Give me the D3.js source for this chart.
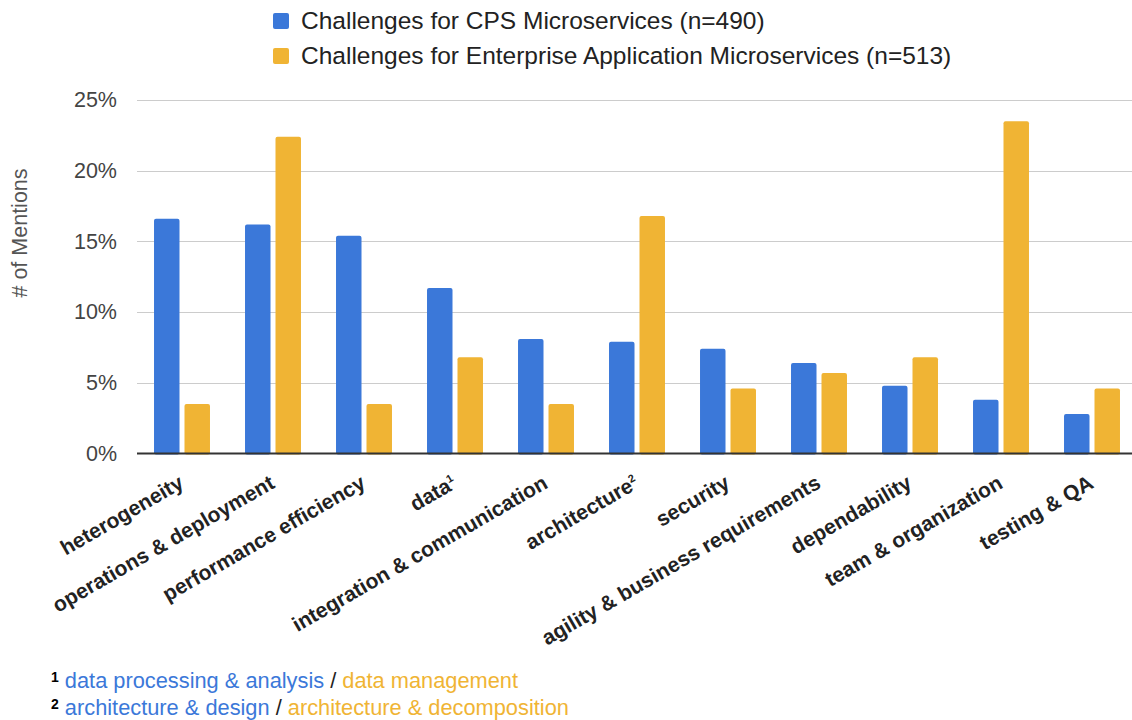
<!DOCTYPE html>
<html>
<head>
<meta charset="utf-8">
<script src="https://cdn.jsdelivr.net/npm/d3@7"></script>
<style>
  body { margin: 0; background: #fff; }
  svg { font-family: Arial, "Liberation Sans", sans-serif; }
</style>
</head>
<body>
<div id="chart"></div>
<script>

/***************************** Data *****************************/

var categories = ["heterogeneity", "operations & deployment", "performance efficiency", "data", "integration & communication",
  "architecture", "security", "agility & business requirements", "dependability", "team & organization", "testing & QA"];
var categoryNotes = ["", "", "", "1", "", "2", "", "", "", "", ""];

var seriesNames = ["Challenges for CPS Microservices (n=490)", "Challenges for Enterprise Application Microservices (n=513)"];
var cpsValues = [16.6, 16.2, 15.4, 11.7, 8.1, 7.9, 7.4, 6.4, 4.8, 3.8, 2.8];
var enterpriseValues = [3.5, 22.4, 3.5, 6.8, 3.5, 16.8, 4.6, 5.7, 6.8, 23.5, 4.6];

var yTicks = [0, 5, 10, 15, 20, 25];
var yTitle = "# of Mentions";

var footnoteNums = ["1", "2"];
var footnoteCps = ["data processing & analysis", "architecture & design"];
var footnoteEnterprise = ["data management", "architecture & decomposition"];

/***************************** Setup *****************************/

var width = 1132, height = 720;
var colors = ["#3b78d9", "#f0b434"];

var svg = d3.select("#chart").append("svg")
  .attr("width", width).attr("height", height);

var x0 = d3.scaleBand().domain(categories).range([136.5, 1137.5]).paddingInner(0.385).paddingOuter(0.1925);
var x1 = d3.scaleBand().domain([0, 1]).range([0, x0.bandwidth()]).paddingInner(0.164);
var y = d3.scaleLinear().domain([0, 25]).range([453.5, 100]);

var rows = categories.map(function(c, i){ return { cat: c, vals: [cpsValues[i], enterpriseValues[i]] }; });

/***************************** Grid + y axis *****************************/

var yAxis = d3.axisLeft(y).tickValues(yTicks).tickSize(0).tickPadding(20).tickFormat(function(d){ return d + "%"; });
var gy = svg.append("g").attr("transform", "translate(137,0)").call(yAxis);
gy.select(".domain").remove();
gy.selectAll("text").style("font-size", "21.5px").style("fill", "#444").style("font-family", "Arial, 'Liberation Sans', sans-serif");

svg.append("g").selectAll("line").data(yTicks.filter(function(t){ return t > 0; })).enter().append("line")
  .attr("x1", 137).attr("x2", width)
  .attr("y1", function(d){ return Math.round(y(d)) + 0.5; }).attr("y2", function(d){ return Math.round(y(d)) + 0.5; })
  .style("stroke", "#cccccc").style("stroke-width", 1.2);

svg.append("text")
  .attr("transform", "translate(27,233) rotate(-90)")
  .attr("text-anchor", "middle")
  .style("font-size", "21.5px").style("fill", "#555")
  .text(yTitle);

/***************************** Bars *****************************/

var groups = svg.append("g").selectAll("g").data(rows).enter().append("g")
  .attr("transform", function(d){ return "translate(" + x0(d.cat) + ",0)"; });

groups.selectAll("rect").data(function(d){ return d.vals; }).enter().append("rect")
  .attr("x", function(d, i){ return x1(i); })
  .attr("y", function(d){ return y(d); })
  .attr("width", x1.bandwidth())
  .attr("height", function(d){ return y(0) - y(d) + 1; })
  .attr("rx", 2).attr("ry", 2)
  .style("fill", function(d, i){ return colors[i]; });

// zero line
svg.append("line")
  .attr("x1", 137).attr("x2", width).attr("y1", y(0)).attr("y2", y(0))
  .style("stroke", "#333").style("stroke-width", 2);

/***************************** X labels *****************************/

var xLabels = svg.append("g").selectAll("text").data(categories).enter().append("text")
  .attr("transform", function(d, i){
    var cx = x0(d) + x0.bandwidth() / 2 + 3;
    return "translate(" + cx + ",487) rotate(-30)";
  })
  .attr("text-anchor", "end")
  .style("font-size", "21px").style("font-weight", "bold").style("fill", "#222");

xLabels.append("tspan").text(function(d){ return d; });
xLabels.filter(function(d, i){ return categoryNotes[i] != ""; }).append("tspan")
  .attr("dy", -8).style("font-size", "11px")
  .text(function(d){ return categoryNotes[categories.indexOf(d)]; });

/***************************** Legend *****************************/

var legend = svg.append("g").selectAll("g").data(seriesNames).enter().append("g")
  .attr("transform", function(d, i){ return "translate(273," + (13 + i * 35) + ")"; });

legend.append("rect").attr("width", 16).attr("height", 16).attr("rx", 2)
  .style("fill", function(d, i){ return colors[i]; });
legend.append("text").attr("x", 28).attr("y", 16)
  .style("font-size", "24.5px").style("fill", "#222")
  .text(function(d){ return d; });

/***************************** Footnotes *****************************/

var notes = svg.append("g").selectAll("text").data(footnoteNums).enter().append("text")
  .attr("x", 51).attr("y", function(d, i){ return 688 + i * 27; })
  .style("font-size", "21.8px");

notes.append("tspan").attr("dy", -6).style("font-size", "14px").style("font-weight", "bold").style("fill", "#000")
  .text(function(d){ return d; });
notes.append("tspan").attr("dy", 6).style("fill", colors[0])
  .text(function(d, i){ return " " + footnoteCps[i]; });
notes.append("tspan").style("fill", "#222")
  .text(" / ");
notes.append("tspan").style("fill", colors[1])
  .text(function(d, i){ return footnoteEnterprise[i]; });

</script>
</body>
</html>
